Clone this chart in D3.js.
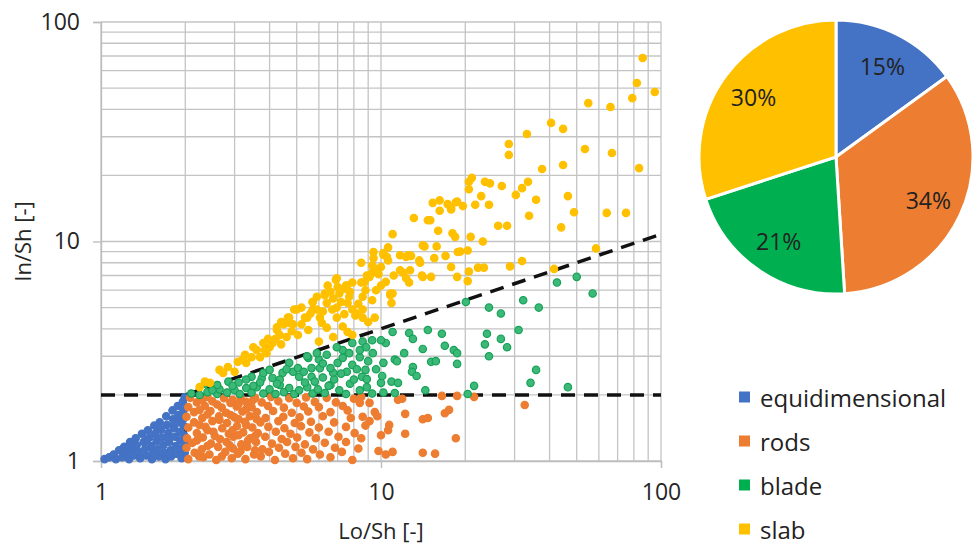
<!DOCTYPE html>
<html>
<head>
<meta charset="utf-8">
<script src="https://cdn.jsdelivr.net/npm/d3@7"></script>
<style>
  body { margin: 0; background: #fff; }
  svg { display: block; font-family: 'Open Sans', sans-serif; }
</style>
</head>
<body>
<div id="chart"></div>
<script>
const width = 974;
const height = 544;

// data (Lo/Sh, In/Sh)
const categories = ['equidimensional', 'rods', 'blade', 'slab'];
const colors = ['#4472C4', '#ED7D31', '#00B050', '#FFC000'];
const shares = [15, 34, 21, 30];
const xTicks = [1, 10, 100];
const yTicks = [1, 10, 100];
// limits between the classes: [from, to]
const limits = [[[1, 2], [100, 2]], [[2, 1], [2, 2]], [[2, 2], [100, 10.8]]];

const equidimensional = [
  [1.03,1.02],[1.07,1.04],[1.11,1.07],[1.13,1.02],[1.16,1.12],[1.19,1.04],[1.21,1.16],[1.23,1.09],[1.26,1.02],
  [1.27,1.22],[1.29,1.13],[1.31,1.06],[1.33,1.27],[1.34,1.18],[1.37,1.1],[1.38,1.03],[1.4,1.33],[1.42,1.22],
  [1.44,1.14],[1.45,1.06],[1.47,1.38],[1.49,1.28],[1.51,1.17],[1.52,1.02],[1.53,1.1],[1.55,1.45],[1.56,1.33],
  [1.58,1.23],[1.59,1.13],[1.61,1.05],[1.62,1.5],[1.64,1.39],[1.65,1.28],[1.67,1.18],[1.68,1.09],[1.7,1.02],
  [1.71,1.6],[1.72,1.46],[1.74,1.34],[1.75,1.22],[1.77,1.12],[1.78,1.05],[1.8,1.7],[1.81,1.55],[1.82,1.41],
  [1.84,1.29],[1.85,1.17],[1.86,1.08],[1.88,1.78],[1.89,1.62],[1.9,1.5],[1.91,1.36],[1.92,1.24],[1.93,1.13],
  [1.94,1.03],[1.96,1.86],[1.97,1.7],[1.97,1.56],[1.98,1.44],[1.98,1.31],[1.99,1.2],[1.99,1.09],[1.99,1.95],
  [1.46,1.25],[1.6,1.42],[1.73,1.28],[1.83,1.48],[1.25,1.15]
];

const rods = [
  [2.05,1.02],[2.32,1.04],[2.58,1.01],[2.93,1.03],[3.28,1.02],[3.72,1.05],[4.18,1.01],[4.85,1.03],[5.45,1.02],[6.6,1.04],[7.9,1.01],
  [2.16,1.09],[2.44,1.07],[2.78,1.1],[3.08,1.08],[3.52,1.07],[3.98,1.1],[4.55,1.08],[5.2,1.09],[6.05,1.07],[7.25,1.1],
  [2.02,1.15],[2.29,1.13],[2.62,1.16],[2.96,1.14],[3.33,1.16],[3.77,1.13],[4.32,1.15],[4.95,1.16],[5.72,1.13],[6.85,1.15],[8.3,1.14],
  [2.12,1.21],[2.47,1.2],[2.81,1.22],[3.17,1.19],[3.58,1.22],[4.08,1.2],[4.62,1.22],[5.35,1.19],[6.3,1.21],
  [2.03,1.27],[2.31,1.28],[2.66,1.26],[2.97,1.29],[3.41,1.27],[3.86,1.29],[4.42,1.26],[5.02,1.28],[5.85,1.27],[7.05,1.29],
  [2.2,1.34],[2.52,1.36],[2.86,1.33],[3.22,1.35],[3.63,1.34],[4.21,1.36],[4.75,1.33],[5.55,1.35],[6.5,1.36],[8.05,1.34],
  [2.05,1.42],[2.36,1.43],[2.71,1.41],[3.06,1.44],[3.47,1.42],[3.96,1.43],[4.52,1.41],[5.18,1.44],[6.0,1.42],[7.5,1.43],
  [2.15,1.5],[2.5,1.52],[2.82,1.49],[3.27,1.51],[3.71,1.5],[4.3,1.52],[4.92,1.49],[5.62,1.51],[6.8,1.5],
  [2.02,1.59],[2.3,1.57],[2.64,1.6],[3.0,1.58],[3.4,1.6],[3.87,1.57],[4.48,1.59],[5.12,1.58],[6.2,1.6],[7.8,1.57],
  [2.15,1.67],[2.46,1.69],[2.8,1.66],[3.2,1.68],[3.6,1.67],[4.12,1.69],[4.8,1.66],[5.5,1.68],[6.6,1.67],
  [2.05,1.76],[2.35,1.78],[2.7,1.75],[3.05,1.77],[3.45,1.76],[3.95,1.78],[4.5,1.75],[5.3,1.77],[6.0,1.76],[7.3,1.78],
  [2.2,1.85],[2.5,1.87],[2.9,1.84],[3.3,1.86],[3.75,1.85],[4.3,1.87],[5.0,1.84],[5.8,1.86],[6.9,1.85],
  [2.08,1.94],[2.4,1.96],[2.75,1.93],[3.15,1.95],[3.55,1.94],[4.05,1.96],[4.7,1.93],[5.4,1.95],[6.4,1.94],[8.5,1.96],
  [2.24,1.05],[2.7,1.05],[3.15,1.11],[3.55,1.12],[2.4,1.17],[2.88,1.18],[3.35,1.24],[2.2,1.24],[2.55,1.3],
  [3.1,1.31],[3.55,1.3],[2.4,1.38],[2.95,1.38],[3.3,1.46],[2.25,1.46],[2.65,1.54],[3.1,1.55],[3.6,1.55],
  [2.4,1.63],[2.9,1.62],[2.25,1.71],[3.3,1.72],[2.6,1.81],[3.1,1.82],[2.3,1.9],[2.95,1.9],[3.5,1.9],
  [8.4,1.84],[9.1,1.84],[9.5,1.67],[9.7,1.6],[8.6,1.59],[9.1,1.52],[8.5,1.27],[9.8,1.11],[10.4,1.07],[11,1.1],
  [10.7,1.46],[10.6,1.38],[10,1.31],[12.2,1.33],[12.2,1.64],[14.1,1.55],[14.7,1.57],[16.9,1.65],[17.5,1.71],
  [11.9,1.92],[11.5,1.9],[16.5,1.98],[18.7,1.98],[21.5,1.96],[32.6,1.8],[18.5,1.27],[14.1,1.09],[15.6,1.08],
  [7.5,1.22],[8.8,1.45],[7.6,1.7],[8.0,1.92]
];

const blade = [
  [2.1,2.03],[2.25,2.0],[2.4,2.06],[2.6,2.02],[2.65,2.12],[2.82,2.05],[3.0,2.1],[3.13,2.02],[3.3,2.15],[3.45,2.05],
  [3.6,2.17],[3.8,2.03],[4.0,2.12],[4.2,2.02],[4.35,2.22],[4.5,2.06],[4.7,2.15],[4.9,2.02],[5.1,2.1],[5.45,2.17],
  [5.7,2.03],[5.95,2.12],[6.3,2.04],[6.6,2.22],[7.1,2.1],[7.5,2.02],[7.75,2.25],[8.4,2.1],[8.9,2.17],[9.3,2.03],
  [10.2,2.05],[11.2,2.04],[14.4,2.1],[20.4,2.02],[21.5,2.2],[34.2,2.27],[46.5,2.17],
  [2.35,2.25],[2.6,2.22],[2.85,2.3],[3.1,2.28],[3.45,2.42],[3.3,2.35],[3.75,2.38],[3.8,2.52],[4.1,2.39],[4.0,2.6],
  [4.45,2.52],[4.35,2.35],[4.85,2.55],[4.7,2.8],[5.1,2.42],[5.05,2.65],[5.65,2.42],[5.65,2.65],[5.5,2.95],[6.05,2.65],
  [6.2,2.4],[6.4,3.05],[6.75,2.52],[6.8,2.35],[7.0,2.8],[7.3,2.95],[7.3,3.2],[7.55,2.55],[7.9,2.74],[7.9,3.45],
  [8.0,2.35],[8.4,2.97],[8.55,2.42],[8.6,3.5],[8.8,2.6],[8.9,2.36],[8.85,3.3],[9.0,2.85],[9.35,3.1],[9.3,3.55],
  [8.4,3.2],[10.0,2.27],[10.1,2.44],[10.9,2.3],[11.5,2.27],[10.2,2.8],[11.2,2.9],[11.4,2.85],[10.4,3.45],[10.0,3.55],
  [11.0,3.87],[12.6,3.83],[13.0,3.6],[12.1,3.1],[13.0,2.68],[12.9,2.55],[13.4,2.44],[14.1,3.24],[15.1,2.83],[15.7,2.85],
  [14.7,3.95],[16.5,3.8],[16.9,3.35],[18.2,3.2],[18.7,3.1],[18.7,2.77],[20.1,5.3],[24.3,5.0],[32.2,5.4],[36.6,5.0],
  [26.8,4.7],[31,3.95],[23.9,3.8],[23.5,3.4],[26.8,3.6],[28.2,3.3],[24.3,3.0],[35.8,2.6],[42.5,6.5],[50,6.9],
  [57,5.8],[2.95,2.2],[4.25,2.25],[5.35,2.28],[6.0,2.9],[6.6,2.65],[7.7,3.1],[5.9,3.1],[5.45,3.0],[6.95,3.3],
  [2.5,2.1],[3.7,2.28],[4.6,2.62],[5.3,2.55],[6.2,2.78],[7.2,2.5],[8.2,2.62],[9.6,2.62],[6.5,2.2],[3.5,2.2],[5.8,2.3]
];

const slab = [
  [2.25,2.17],[2.35,2.3],[2.45,2.27],[2.65,2.6],[2.73,2.52],[2.84,2.68],[3.0,2.55],[3.08,2.83],[3.3,2.8],[3.27,3.05],
  [3.45,2.97],[3.7,2.97],[3.6,3.2],[3.85,3.2],[3.8,3.45],[4.1,3.45],[4.0,3.3],[3.95,3.6],[4.25,3.95],[4.35,3.75],
  [4.6,3.67],[4.5,4.2],[4.85,4.2],[4.7,4.5],[5.05,3.75],[5.35,4.5],[4.9,4.9],[5.5,3.95],[5.7,5.3],[5.7,4.9],
  [6.05,4.5],[6.15,4.25],[6.4,4.05],[6.3,5.8],[6.4,5.25],[6.7,4.9],[6.95,4.5],[6.75,3.67],[6.9,6.7],[7.1,5.8],
  [7.4,6.1],[7.5,6.3],[7.6,3.87],[7.6,5.25],[7.9,6.5],[7.9,4.9],[7.9,3.75],[8.1,4.6],[8.5,8.0],[8.5,6.5],
  [8.6,4.5],[8.8,6.0],[9.0,4.3],[9.3,7.2],[9.3,5.4],[9.4,8.95],[9.4,8.4],[9.4,7.6],[10,7.65],[10.2,8.85],
  [10.5,8.5],[10.4,6.55],[8.75,6.55],[10,6.3],[11,5.8],[10.8,5.7],[11,10.8],[10.6,9.4],[11.1,7.0],[11.7,7.4],
  [12.3,6.8],[12.6,6.5],[12.3,8.5],[12.8,8.6],[13.1,12.8],[13.8,8.0],[14,7.0],[14.3,9.5],[15.1,6.9],[15,12.5],
  [15.3,15],[15.5,8.4],[15.8,9.5],[16,11.2],[16.2,15.4],[16.2,13.8],[17,8.6],[17.3,14.8],[17.8,14],[17.8,7.65],
  [18,10.9],[18.4,10.5],[18.7,15.2],[18.7,6.9],[18.8,8.95],[19.6,14.5],[18.5,15.1],[17.8,14.2],[21.1,19.5],[20.6,18.7],
  [20.6,17.3],[23.5,18.7],[24.5,18.4],[27,17.9],[31.9,17.5],[33.5,18.7],[22.8,16.1],[30.3,16.3],[35.8,15.5],[46.5,16.1],
  [48.9,13.6],[64,13.5],[75,13.5],[24.3,14.7],[21.7,14.7],[33.8,13.1],[26.2,11.8],[28.2,11.8],[44,11.6],[20.9,10.5],
  [23.1,10.0],[19.2,9.0],[20.4,9.1],[58.6,9.3],[31.9,8.15],[28.9,7.7],[22.2,7.6],[23.3,7.6],[20.6,7.3],[20.4,6.6],
  [41.5,7.5],[86,68.6],[82,52.7],[95,48],[79,45],[55,42.7],[66,41],[40.5,34.7],[44.7,32.6],[33.2,30.9],
  [28.6,27.8],[28.6,24.8],[53.5,26.4],[66.8,25.3],[44.7,22.3],[37.6,21.4],[83.5,21.6],
  [9.3,7.8],[9.5,7.4],[9.1,6.9],[10.2,8.7],[10.6,8.2],[6.95,6.8],[6.45,6.3],[7.55,6.3],[7.75,5.9],[6.3,5.7],
  [6.75,5.5],[5.7,5.3],[6.95,5.0],[7.4,4.67],[8.2,4.7],[5.9,4.9],[5.45,4.5],[5.0,4.9],[4.65,4.5],[4.7,4.25],
  [4.25,4.07],[8.6,5.6],[9.6,6.0],[10.8,5.8],[8.6,4.9],[9.5,4.5],[10.9,5.25],[12,7.2],[12.7,7.4],[14.1,6.9],
  [13.7,8.2],[12.5,8.65],[11.7,8.65],[14.1,9.6],[14.7,12.5],
  [3.2,2.9],[3.5,3.3],[3.9,3.1],[4.2,3.6],[4.4,4.3],[4.8,3.9],[5.2,4.2],[5.2,5.0],[5.6,4.7],[5.9,5.6],
  [6.2,4.8],[6.6,5.9],[7.0,6.2],[7.2,5.3],[7.7,5.6],[8.3,5.2],[8.9,7.0],[9.8,7.1],[6.0,3.5],[7.3,4.1],[4.4,3.4]
];

const series = [equidimensional, rods, blade, slab];
const markerFill = ['#4472C4', '#ED7D31', '#3cb878', '#FFC000'];
const markerStroke = ['#4472C4', '#ED7D31', '#17a257', '#FFC000'];

const svg = d3.select('#chart').append('svg')
    .attr('width', width)
    .attr('height', height);

const x = d3.scaleLog().domain([1, 100]).range([101, 661]);
const y = d3.scaleLog().domain([1, 100]).range([461, 22]);

// grid, major and minor
const grid = svg.append('g').attr('stroke', '#c4c4c4').attr('stroke-width', 1.3);
grid.selectAll('line.v')
  .data(x.ticks())
  .join('line')
    .attr('class', 'v')
    .attr('x1', d => x(d)).attr('x2', d => x(d))
    .attr('y1', y(100)).attr('y2', y(1));
grid.selectAll('line.h')
  .data(y.ticks())
  .join('line')
    .attr('class', 'h')
    .attr('x1', x(1)).attr('x2', x(100))
    .attr('y1', d => y(d)).attr('y2', d => y(d));

// axes
const xAxis = svg.append('g')
    .attr('transform', `translate(0,${y(1)})`)
    .call(d3.axisBottom(x).tickValues(xTicks).tickFormat(d3.format('d')).tickSize(7).tickPadding(16));
const yAxis = svg.append('g')
    .attr('transform', `translate(${x(1)},0)`)
    .call(d3.axisLeft(y).tickValues(yTicks).tickFormat(d3.format('d')).tickSize(8).tickPadding(13));
[xAxis, yAxis].forEach(a => {
  a.select('.domain').attr('stroke', '#bcbcbc').attr('stroke-width', 1.3);
  a.selectAll('.tick line').attr('stroke', '#bcbcbc').attr('stroke-width', 1.3);
  a.selectAll('.tick text').attr('fill', '#262626').attr('font-size', 23).attr('font-family', 'Open Sans');
});

// class limits
svg.append('g')
  .selectAll('line')
  .data(limits)
  .join('line')
    .attr('x1', d => x(d[0][0])).attr('y1', d => y(d[0][1]))
    .attr('x2', d => x(d[1][0])).attr('y2', d => y(d[1][1]))
    .attr('stroke', '#111')
    .attr('stroke-width', 3.5)
    .attr('stroke-dasharray', '14,9');

// points
series.forEach((pts, i) => {
  svg.append('g')
    .selectAll('circle')
    .data(pts)
    .join('circle')
      .attr('cx', d => x(d[0]))
      .attr('cy', d => y(d[1]))
      .attr('r', 3.7)
      .attr('fill', markerFill[i])
      .attr('stroke', markerStroke[i])
      .attr('stroke-width', 1.2);
});

// axis titles
svg.append('text')
    .attr('x', x(10)).attr('y', 530)
    .attr('text-anchor', 'middle')
    .attr('dominant-baseline', 'central')
    .attr('font-size', 22).attr('fill', '#262626')
    .text('Lo/Sh [-]');
svg.append('text')
    .attr('transform', `translate(22,${y(10)}) rotate(-90)`)
    .attr('text-anchor', 'middle')
    .attr('dominant-baseline', 'central')
    .attr('font-size', 22).attr('fill', '#262626')
    .text('In/Sh [-]');

// pie
const radius = 137;
const pie = d3.pie().sort(null).value(d => d);
const arcs = pie(shares);
const arc = d3.arc().innerRadius(0).outerRadius(radius);
const labelArc = d3.arc().innerRadius(102).outerRadius(102);
const pieG = svg.append('g').attr('transform', 'translate(836,157)');
pieG.selectAll('path')
  .data(arcs)
  .join('path')
    .attr('d', arc)
    .attr('fill', (d, i) => colors[i])
    .attr('stroke', '#fff')
    .attr('stroke-width', 3);
pieG.selectAll('text')
  .data(arcs)
  .join('text')
    .attr('transform', d => `translate(${labelArc.centroid(d)})`)
    .attr('text-anchor', 'middle')
    .attr('dominant-baseline', 'central')
    .attr('font-size', 23)
    .attr('fill', '#222')
    .text(d => `${d.data}%`);

// legend
const legend = svg.append('g')
  .selectAll('g')
  .data(categories)
  .join('g')
    .attr('transform', (d, i) => `translate(739,${397 + i * 44})`);
legend.append('rect')
    .attr('x', 0).attr('y', -5.5)
    .attr('width', 11).attr('height', 11)
    .attr('fill', (d, i) => colors[i]);
legend.append('text')
    .attr('x', 21)
    .attr('dominant-baseline', 'central')
    .attr('font-size', 24)
    .attr('fill', '#222')
    .text(d => d);
</script>
</body>
</html>
